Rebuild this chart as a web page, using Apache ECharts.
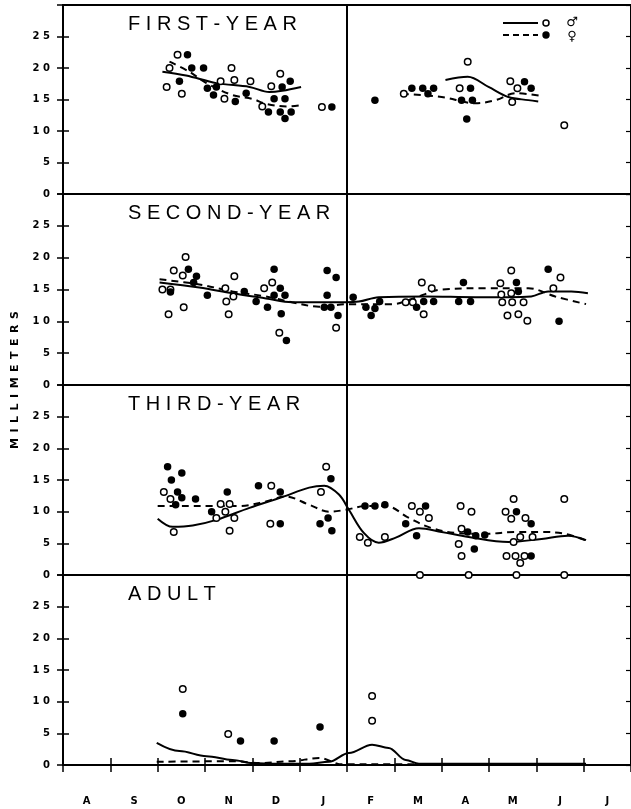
<!DOCTYPE html>
<html>
<head>
<meta charset="utf-8">
<script src="https://cdn.jsdelivr.net/npm/echarts@6/dist/echarts.min.js"></script>
<style>
html,body{margin:0;padding:0;background:#fff;}
#chart{width:631px;height:809px;}
</style>
</head>
<body>
<div id="chart"></div>
<script>
// x = months after 1 August (0 = Aug 1, 6 = Feb 1), y = millimeters
const months = ['A','S','O','N','D','J','F','M','A','M','J','J'];
const yTickLabels = ['0','5','1 0','1 5','2 0','2 5'];
const panelTitles = ['F I R S T - Y E A R','S E C O N D - Y E A R','T H I R D - Y E A R','A D U L T'];

// FIRST-YEAR
const firstMaleDots = [[2.19,17.0],[2.25,20.0],[2.42,22.1],[2.51,15.9],[3.33,17.9],[3.41,15.1],[3.56,20.0],[3.62,18.1],[3.96,17.9],[4.21,13.9],[4.40,17.1],[4.59,19.1],[5.47,13.8],[7.20,15.9],[8.38,16.8],[8.55,21.0],[9.45,17.9],[9.49,14.6],[9.60,16.8],[10.59,10.9]];
const firstFemaleDots = [[2.46,17.9],[2.63,22.1],[2.72,20.0],[2.97,20.0],[3.05,16.8],[3.18,15.7],[3.24,17.0],[3.64,14.7],[3.87,16.0],[4.34,13.0],[4.46,15.1],[4.59,13.0],[4.63,17.0],[4.69,15.1],[4.69,12.0],[4.80,17.9],[4.82,13.0],[5.68,13.8],[6.59,14.9],[7.37,16.8],[7.60,16.8],[7.71,15.9],[7.83,16.8],[8.42,14.9],[8.53,11.9],[8.61,16.8],[8.65,14.9],[9.75,17.8],[9.89,16.8]];
const firstMaleLine = [
  [[2.10,19.4],[2.60,18.8],[3.24,17.6],[3.94,17.0],[4.36,16.2],[4.63,16.4],[5.03,17.0]],
  [[8.08,18.1],[8.55,18.6],[8.99,17.0],[9.41,15.4],[9.83,14.9],[10.04,14.7]]
];
const firstFemaleLine = [
  [[2.25,21.0],[2.67,19.4],[3.03,17.6],[3.58,15.7],[4.00,15.1],[4.29,14.3],[4.72,13.9],[5.03,14.1]],
  [[7.16,15.9],[8.00,15.4],[8.72,14.4],[9.14,14.9],[9.56,16.0],[10.08,15.6]]
];

// SECOND-YEAR
const secondMaleDots = [[2.10,15.0],[2.23,11.1],[2.27,15.0],[2.34,18.0],[2.53,17.2],[2.55,12.2],[2.59,20.1],[3.43,15.2],[3.45,13.1],[3.50,11.1],[3.60,13.9],[3.62,17.1],[4.25,15.2],[4.42,16.1],[4.57,8.2],[5.77,9.0],[7.24,13.0],[7.39,13.0],[7.58,16.1],[7.62,11.1],[7.79,15.2],[9.24,16.0],[9.26,14.2],[9.28,13.0],[9.39,10.9],[9.47,18.0],[9.47,14.4],[9.49,13.0],[9.62,11.1],[9.73,13.0],[9.81,10.1],[10.36,15.2],[10.51,16.9]];
const secondFemaleDots = [[2.27,14.6],[2.65,18.2],[2.76,16.1],[2.82,17.1],[3.05,14.1],[3.83,14.7],[4.08,13.1],[4.32,12.2],[4.46,18.2],[4.46,14.1],[4.59,15.2],[4.61,11.2],[4.69,14.1],[4.72,7.0],[5.52,12.2],[5.58,18.0],[5.58,14.1],[5.66,12.2],[5.77,16.9],[5.81,10.9],[6.13,13.8],[6.40,12.2],[6.51,10.9],[6.59,12.0],[6.69,13.1],[7.47,12.2],[7.62,13.1],[7.83,13.1],[8.36,13.1],[8.46,16.1],[8.61,13.1],[9.58,16.1],[9.62,14.7],[10.25,18.2],[10.48,10.0]];
const secondMaleLine = [
  [[2.04,16.1],[2.88,15.3],[3.58,14.4],[4.29,13.6],[4.84,13.0],[5.41,13.0],[5.97,13.0],[6.25,13.1],[6.67,13.8],[7.66,13.9],[8.72,13.8],[9.41,13.8],[9.89,13.9],[10.25,14.7],[10.74,14.7],[11.09,14.4]]
];
const secondFemaleLine = [
  [[2.04,16.6],[2.88,15.8],[3.58,14.7],[4.29,13.9],[4.84,13.0],[5.41,12.3],[6.04,12.7],[6.95,12.7],[7.40,13.6],[8.00,15.0],[8.93,15.2],[9.83,15.2],[10.40,13.9],[11.05,12.7]]
];

// THIRD-YEAR
const thirdMaleDots = [[2.13,13.1],[2.27,12.0],[2.34,6.8],[3.24,9.0],[3.33,11.2],[3.43,10.0],[3.52,11.2],[3.52,7.0],[3.62,9.0],[4.38,8.1],[4.40,14.1],[5.45,13.1],[5.56,17.1],[6.27,6.0],[6.44,5.1],[6.80,6.0],[7.37,10.9],[7.54,10.0],[7.54,0],[7.73,9.0],[8.36,4.9],[8.40,10.9],[8.42,7.3],[8.42,3.0],[8.57,0],[8.63,10.0],[9.35,10.0],[9.37,3.0],[9.47,8.9],[9.52,12.0],[9.52,5.2],[9.56,3.0],[9.58,0],[9.66,6.0],[9.66,1.9],[9.75,3.0],[9.77,9.0],[9.92,6.0],[10.59,12.0],[10.59,0]];
const thirdFemaleDots = [[2.21,17.1],[2.29,15.0],[2.38,11.1],[2.42,13.1],[2.51,16.1],[2.51,12.2],[2.80,12.0],[3.14,10.0],[3.47,13.1],[4.13,14.1],[4.59,13.1],[4.59,8.1],[5.43,8.1],[5.60,9.0],[5.66,15.2],[5.68,7.0],[6.38,10.9],[6.59,10.9],[6.80,11.1],[7.24,8.1],[7.47,6.2],[7.66,10.9],[8.55,6.8],[8.69,4.1],[8.72,6.2],[8.91,6.3],[9.58,10.0],[9.89,8.1],[9.89,3.0]];
const thirdMaleLine = [
  [[2.00,8.9],[2.32,7.6],[2.74,7.8],[3.24,8.7],[3.94,10.6],[4.63,12.3],[5.20,13.8],[5.52,14.1],[5.83,12.7],[6.04,10.3],[6.36,6.6],[6.67,5.1],[7.03,5.9],[7.52,7.4],[8.00,6.8],[8.57,6.0],[9.41,5.2],[10.11,5.7],[10.67,6.2],[11.05,5.5]]
];
const thirdFemaleLine = [
  [[2.00,10.9],[2.61,10.9],[3.16,10.9],[3.73,10.9],[4.29,11.6],[4.70,12.4],[5.20,11.1],[5.62,10.0],[5.98,10.3],[6.40,10.9],[6.82,10.9],[7.31,9.0],[7.79,7.4],[8.36,6.6],[8.93,6.5],[9.56,6.8],[10.11,6.8],[10.61,6.5],[11.03,5.5]]
];

// ADULT
const adultMaleDots = [[2.53,12.0],[3.49,4.9],[6.53,10.9],[6.53,7.0]];
const adultFemaleDots = [[2.53,8.1],[3.75,3.8],[4.46,3.8],[5.43,6.0]];
const adultMaleLine = [
  [[1.98,3.5],[2.46,2.2],[3.03,1.4],[3.58,0.8],[4.00,0.3],[4.50,0.2],[5.20,0.2],[5.62,0.5],[6.04,1.9],[6.53,3.2],[6.88,2.7],[7.24,0.8],[7.52,0.2],[9.00,0.2],[11.05,0.2]]
];
const adultFemaleLine = [
  [[1.98,0.5],[3.58,0.6],[4.21,0.3],[4.80,0.6],[5.41,1.1],[5.90,0.1],[7.00,0.1],[11.05,0.1]]
];

const panels = [
  {maleDots:firstMaleDots, femaleDots:firstFemaleDots, maleLine:firstMaleLine, femaleLine:firstFemaleLine},
  {maleDots:secondMaleDots, femaleDots:secondFemaleDots, maleLine:secondMaleLine, femaleLine:secondFemaleLine},
  {maleDots:thirdMaleDots, femaleDots:thirdFemaleDots, maleLine:thirdMaleLine, femaleLine:thirdFemaleLine},
  {maleDots:adultMaleDots, femaleDots:adultFemaleDots, maleLine:adultMaleLine, femaleLine:adultFemaleLine}
];

const gridBoxes = [{top:5,height:189},{top:194,height:191},{top:385,height:190},{top:575,height:190}];
const titleY = [24, 213, 404, 594];
const labelFont = '"DejaVu Sans", sans-serif';

const grid = gridBoxes.map(g => ({left:63, right:-2, top:g.top, height:g.height, show:true, borderColor:'#000', borderWidth:2, backgroundColor:'transparent'}));

const xAxis = [];
gridBoxes.forEach((g,i) => {
  xAxis.push({
    gridIndex:i, type:'value', min:0, max:12, interval:1,
    axisLine:{show:false}, axisLabel:{show:false}, splitLine:{show:false},
    axisTick:{show: i===3, inside:true, length:7, lineStyle:{color:'#000', width:1.5}}
  });
});
xAxis.push({
  gridIndex:3, type:'category', data:months, boundaryGap:true, position:'bottom',
  axisLine:{show:false}, splitLine:{show:false},
  axisTick:{show:true, interval:0, length:7, lineStyle:{color:'#000', width:1.5}},
  axisLabel:{interval:0, margin:31, color:'#000', fontFamily:labelFont, fontWeight:'bold', fontSize:10}
});

const yAxis = [];
gridBoxes.forEach((g,i) => {
  yAxis.push({
    gridIndex:i, type:'value', min:0, max:30, interval:5, position:'left',
    axisLine:{show:true, lineStyle:{color:'#000', width:2}},
    axisTick:{show:true, length:6, lineStyle:{color:'#000', width:1.5}},
    axisLabel:{margin:13, color:'#000', fontFamily:labelFont, fontWeight:'bold', fontSize:10,
      formatter: v => (yTickLabels[v/5] !== undefined ? yTickLabels[v/5] : '')},
    splitLine:{show:false}
  });
  yAxis.push({
    gridIndex:i, type:'value', min:0, max:30, interval:5, position:'left',
    axisLine:{show:false}, axisLabel:{show:false}, splitLine:{show:false},
    axisTick:{show:true, inside:true, length:6, lineStyle:{color:'#000', width:1.5}}
  });
  yAxis.push({
    gridIndex:i, type:'value', min:0, max:30, interval:5, position:'right',
    axisLine:{show:false}, axisLabel:{show:false}, splitLine:{show:false},
    axisTick:{show:true, inside:true, length:5, lineStyle:{color:'#000', width:1.2}}
  });
});

const series = [];
panels.forEach((p,i) => {
  const mono = i === 3 ? 'x' : undefined;
  p.maleLine.forEach((seg,k) => {
    const s = {
      type:'line', xAxisIndex:i, yAxisIndex:3*i, data:seg, smooth:0.35, smoothMonotone:mono,
      showSymbol:false, symbol:'none', silent:true, z:2,
      lineStyle:{color:'#000', width:2, type:'solid'}
    };
    if (k === 0) {
      s.markLine = {symbol:['none','none'], silent:true, label:{show:false},
        lineStyle:{color:'#000', width:2, type:'solid'}, data:[{xAxis:6}]};
    }
    series.push(s);
  });
  p.femaleLine.forEach(seg => {
    series.push({
      type:'line', xAxisIndex:i, yAxisIndex:3*i, data:seg, smooth:0.35, smoothMonotone:mono,
      showSymbol:false, symbol:'none', silent:true, z:2,
      lineStyle:{color:'#000', width:2, type:[7,5]}
    });
  });
  series.push({
    type:'scatter', xAxisIndex:i, yAxisIndex:3*i, data:p.maleDots, symbol:'circle', symbolSize:6.5,
    silent:true, z:4, itemStyle:{color:'#fff', borderColor:'#000', borderWidth:1.5, opacity:1}
  });
  series.push({
    type:'scatter', xAxisIndex:i, yAxisIndex:3*i, data:p.femaleDots, symbol:'circle', symbolSize:7.5,
    silent:true, z:4, itemStyle:{color:'#000', opacity:1}
  });
});

const graphic = [];
panelTitles.forEach((t,i) => {
  graphic.push({type:'text', x:128, y:titleY[i], silent:true, z:10,
    style:{text:t, fill:'#000', font:'normal 20px "Liberation Sans", Arial, sans-serif', align:'left', verticalAlign:'middle', textAlign:'left', textVerticalAlign:'middle'}});
});
graphic.push({type:'text', x:15, y:380, rotation:Math.PI/2, silent:true,
  style:{text:'M\u2002I\u2002L\u2002L\u2002I\u2002M\u2002E\u2002T\u2002E\u2002R\u2002S', fill:'#000', font:'bold 11px "DejaVu Sans", sans-serif', align:'center', verticalAlign:'middle', textAlign:'center', textVerticalAlign:'middle'}});
// legend
graphic.push({type:'line', silent:true, shape:{x1:503,y1:23,x2:538,y2:23}, style:{stroke:'#000', lineWidth:2}});
graphic.push({type:'circle', silent:true, shape:{cx:546,cy:23,r:3}, style:{fill:'#fff', stroke:'#000', lineWidth:1.5}});
graphic.push({type:'text', x:572, y:23, silent:true, style:{text:'\u2642', fill:'#000', font:'bold 13px "DejaVu Sans", sans-serif', align:'center', verticalAlign:'middle', textAlign:'center', textVerticalAlign:'middle'}});
graphic.push({type:'line', silent:true, shape:{x1:503,y1:35,x2:538,y2:35}, style:{stroke:'#000', lineWidth:2, lineDash:[6,4]}});
graphic.push({type:'circle', silent:true, shape:{cx:546,cy:35,r:3.7}, style:{fill:'#000'}});
graphic.push({type:'text', x:572, y:37, silent:true, style:{text:'\u2640', fill:'#000', font:'bold 13px "DejaVu Sans", sans-serif', align:'center', verticalAlign:'middle', textAlign:'center', textVerticalAlign:'middle'}});

const chart = echarts.init(document.getElementById('chart'), null, {renderer:'canvas'});
chart.setOption({
  animation:false,
  backgroundColor:'#fff',
  grid, xAxis, yAxis, series, graphic
});
</script>
</body>
</html>
